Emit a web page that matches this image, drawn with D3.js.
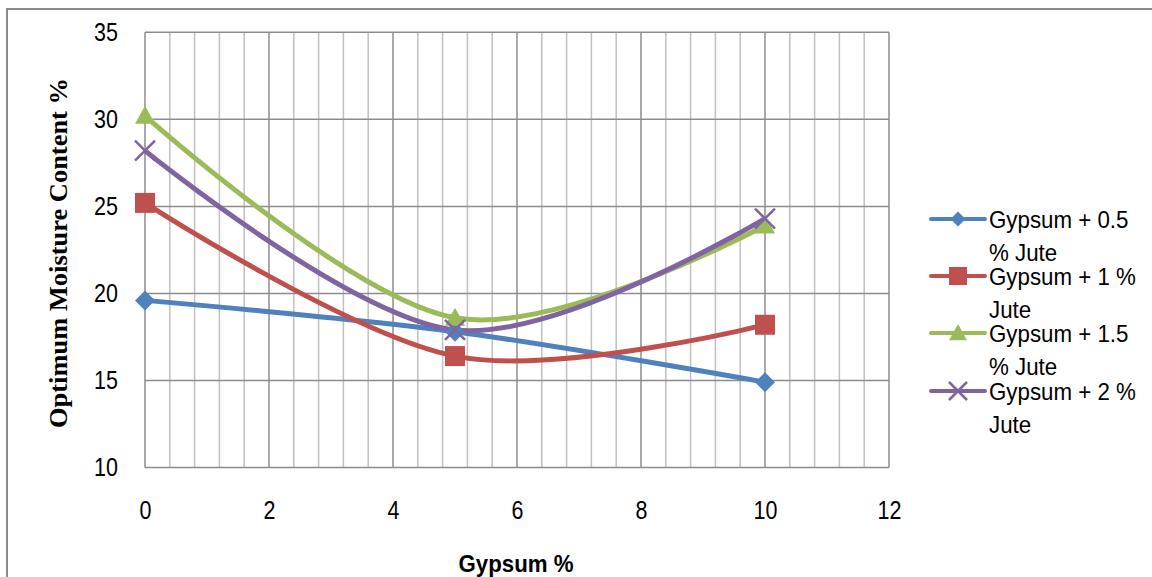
<!DOCTYPE html>
<html><head><meta charset="utf-8">
<script src="https://cdn.jsdelivr.net/npm/d3@7"></script>
<style>body{margin:0;background:#fff;}svg{display:block;}</style>
</head><body>
<svg id="c" width="1152" height="577"></svg>
<script>
const xValues = [0, 5, 10];
const seriesNames = ["Gypsum + 0.5 % Jute", "Gypsum + 1 % Jute", "Gypsum + 1.5 % Jute", "Gypsum + 2 % Jute"];
const legendLines = [["Gypsum + 0.5", "% Jute"], ["Gypsum + 1 %", "Jute"], ["Gypsum + 1.5", "% Jute"], ["Gypsum + 2 %", "Jute"]];
const jute05 = [19.6, 17.8, 14.9];
const jute1 = [25.2, 16.4, 18.2];
const jute15 = [30.2, 18.6, 23.9];
const jute2 = [28.2, 17.9, 24.3];
const xTicks = [0, 2, 4, 6, 8, 10, 12];
const yTicks = [10, 15, 20, 25, 30, 35];
const colors = ["#4F81BD", "#C0504D", "#9BBB59", "#8064A2"];
const markers = ["diamond", "square", "triangle", "x"];
const allSeries = [jute05, jute1, jute15, jute2];

const SANS = "'Liberation Sans', Arial, sans-serif";
const svg = d3.select("#c");
const x = d3.scaleLinear().domain([0, 12]).range([145, 889]);
const y = d3.scaleLinear().domain([10, 35]).range([467.5, 32.3]);

svg.append("rect").attr("x", 7).attr("y", 9).attr("width", 1200).attr("height", 700)
  .attr("fill", "none").attr("stroke", "#8a8a8a").attr("stroke-width", 2);

const g = svg.append("g");
const minor = d3.range(0, 12.001, 0.4).filter(v => Math.abs(v / 2 - Math.round(v / 2)) > 1e-6);
g.selectAll(".minor").data(minor).enter().append("line")
  .attr("x1", d => x(d)).attr("x2", d => x(d)).attr("y1", y(35)).attr("y2", y(10))
  .attr("stroke", "#c0c0c0").attr("stroke-width", 1.5);
g.selectAll(".majv").data(xTicks).enter().append("line")
  .attr("x1", d => x(d)).attr("x2", d => x(d)).attr("y1", y(35)).attr("y2", y(10))
  .attr("stroke", "#8c8c8c").attr("stroke-width", 1.5);
g.selectAll(".majh").data(yTicks).enter().append("line")
  .attr("x1", x(0)).attr("x2", x(12)).attr("y1", d => y(d)).attr("y2", d => y(d))
  .attr("stroke", "#8c8c8c").attr("stroke-width", 1.5);

const sx = 0.86;
const xAxis = svg.append("g").attr("transform", `translate(0,${y(10)})`)
  .call(d3.axisBottom(x).tickValues(xTicks).tickSize(0).tickPadding(34));
const yAxis = svg.append("g").attr("transform", `translate(${x(0)},0)`)
  .call(d3.axisLeft(y).tickValues(yTicks).tickSize(0).tickPadding(27));
[xAxis, yAxis].forEach(a => {
  a.select(".domain").remove();
  a.selectAll("text").attr("font-family", SANS)
    .attr("font-size", 25).attr("fill", "#000");
});
xAxis.selectAll("text").attr("transform", `scale(${sx},1)`);
yAxis.selectAll("text").attr("x", -27 / sx).attr("transform", `scale(${sx},1)`);

svg.append("text").attr("x", 516).attr("y", 572).attr("text-anchor", "middle")
  .attr("font-family", SANS).attr("font-weight", "bold")
  .attr("font-size", 24).attr("textLength", 115).attr("lengthAdjust", "spacingAndGlyphs").text("Gypsum %");
svg.append("text").attr("transform", "translate(67,253) rotate(-90)").attr("text-anchor", "middle")
  .attr("font-family", "'Liberation Serif', 'Times New Roman', serif").attr("font-weight", "bold")
  .attr("font-size", 25).attr("textLength", 350).attr("lengthAdjust", "spacingAndGlyphs")
  .text("Optimum Moisture Content %");

const line = d3.line().x((d, i) => x(xValues[i])).y(d => y(d)).curve(d3.curveCardinal.tension(0));
allSeries.forEach((s, i) => {
  svg.append("path").datum(s).attr("d", line).attr("fill", "none")
    .attr("stroke", colors[i]).attr("stroke-width", 5).attr("stroke-linejoin", "round");
});

function drawMarker(sel, type, cx, cy, size, color) {
  const h = size / 2;
  if (type === "diamond") {
    sel.append("path").attr("d", `M${cx},${cy - h}L${cx + h},${cy}L${cx},${cy + h}L${cx - h},${cy}Z`).attr("fill", color);
  } else if (type === "square") {
    sel.append("rect").attr("x", cx - h).attr("y", cy - h).attr("width", size).attr("height", size).attr("fill", color);
  } else if (type === "triangle") {
    sel.append("path").attr("d", `M${cx},${cy - h}L${cx + h},${cy + h * 0.8}L${cx - h},${cy + h * 0.8}Z`).attr("fill", color);
  } else {
    sel.append("path").attr("d", `M${cx - h},${cy - h}L${cx + h},${cy + h}M${cx - h},${cy + h}L${cx + h},${cy - h}`)
      .attr("stroke", color).attr("stroke-width", 2.5).attr("fill", "none");
  }
}
allSeries.forEach((s, i) => {
  const mg = svg.append("g");
  s.forEach((v, j) => drawMarker(mg, markers[i], x(xValues[j]), y(v), 20, colors[i]));
});

const legendY = [219, 276, 333, 391];
seriesNames.forEach((name, i) => {
  const lg = svg.append("g");
  lg.append("line").attr("x1", 931).attr("x2", 985).attr("y1", legendY[i]).attr("y2", legendY[i])
    .attr("stroke", colors[i]).attr("stroke-width", 4).attr("stroke-linecap", "round");
  drawMarker(lg, markers[i], 958, legendY[i], markers[i] === "diamond" ? 15 : 18, colors[i]);
  const t = lg.append("text").attr("font-family", SANS)
    .attr("font-size", 24).attr("fill", "#000")
    .attr("transform", `translate(989,0) scale(0.93,1)`);
  legendLines[i].forEach((ln, k) => {
    t.append("tspan").attr("x", 0).attr("y", legendY[i] + 9 + k * 33).text(ln);
  });
});
</script>
</body></html>
